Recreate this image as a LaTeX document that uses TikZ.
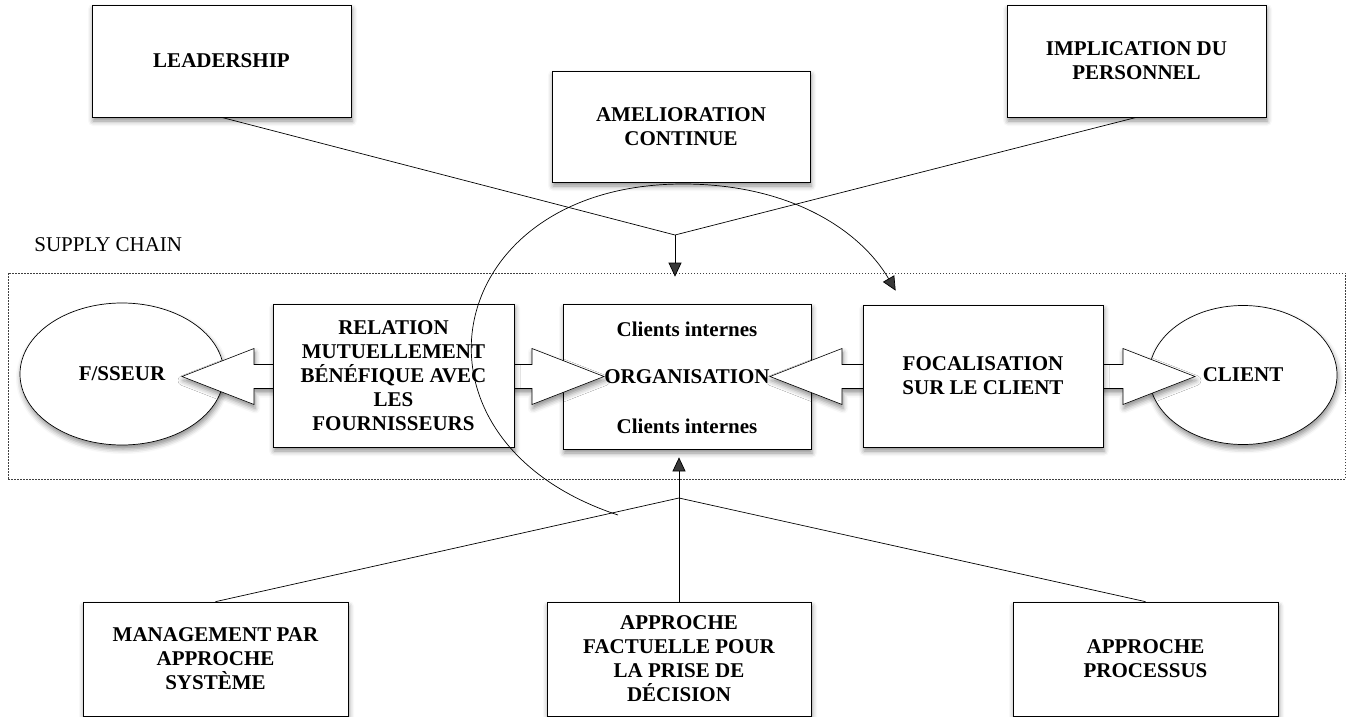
\documentclass[tikz,border=0pt]{standalone}
\usepackage{fontspec}
\setmainfont{Liberation Serif}
\usetikzlibrary{arrows.meta,shapes.geometric,calc,shadows.blur}

\newcommand{\bigfont}{\fontsize{21}{24}\selectfont}
\newcommand{\fatarrow}[2]{%
	\path[fat] let \p1=(#1), \p2=(#2) in (\x1,\y1) -- (\x1+72pt,\y1+28pt) -- (\x1+72pt,\y1+12pt)
	-- (\x2-72pt,\y1+12pt) -- (\x2-72pt,\y1+28pt) -- (\x2,\y1) -- (\x2-72pt,\y1-28pt)
	-- (\x2-72pt,\y1-12pt) -- (\x1+72pt,\y1-12pt) -- (\x1+72pt,\y1-28pt) -- cycle;}

\begin{document}
\begin{tikzpicture}[x=1pt,y=-1pt,->,>={Triangle[length=14pt,width=13pt]},line width=0.7pt,
	main node/.style={rectangle,draw,fill=white,align=center,font=\bigfont\bfseries,
		blur shadow={shadow xshift=1pt,shadow yshift=-4pt,shadow blur radius=5pt,shadow opacity=45}},
	oval node/.style={main node,ellipse},
	fat/.style={draw,fill=white,line width=0.6pt,
		blur shadow={shadow xshift=1pt,shadow yshift=-4pt,shadow blur radius=5pt,shadow opacity=45}},
	txt/.style={font=\bigfont\bfseries,inner sep=0pt},
	frame/.style={draw=black!75,line width=0.6pt,dash pattern=on 1.5pt off 1.5pt,minimum width=1337,minimum height=206}]

	\useasboundingbox (0,0) rectangle (1354,717);

	\node[frame] (chain) at (676.5,376) {};
	\node[font=\bigfont,inner sep=0pt,anchor=west] (sc) at (34,245) {SUPPLY CHAIN};

	\node[main node,minimum width=259,minimum height=112] (lead) at (221.5,61) {LEADERSHIP};
	\node[main node,minimum width=258,minimum height=111] (amel) at (681,126.5) {AMELIORATION\\CONTINUE};
	\node[main node,minimum width=259,minimum height=112] (impl) at (1136.5,61) {IMPLICATION DU\\PERSONNEL};

	\node[oval node,minimum width=204,minimum height=142] (fss) at (122,374) {F/SSEUR};
	\node[oval node,minimum width=188,minimum height=139] (cli) at (1243,375) {CLIENT};

	\node[main node,minimum width=248,minimum height=145] (org) at (687,376.5) {};
	\node[txt] (orgtxt) at (org.center) {ORGANISATION};
	\node[txt] (orgtop) at ([yshift=47pt]org.center) {Clients internes};
	\node[txt] (orgbot) at ([yshift=-50pt]org.center) {Clients internes};

	\fatarrow{[xshift=60pt]fss.center |- orgtxt.west}{orgtxt.west}
	\fatarrow{orgtxt.east}{[xshift=-48pt]cli.center |- orgtxt.east}

	\node[main node,minimum width=241,minimum height=143] (rel) at (393.5,375.5)
		{RELATION\\MUTUELLEMENT\\BÉNÉFIQUE AVEC\\LES\\FOURNISSEURS};
	\node[main node,minimum width=240,minimum height=142] (foc) at (983,376) {FOCALISATION\\SUR LE CLIENT};

	\node[main node,minimum width=265,minimum height=114] (mgmt) at (215.5,659) {MANAGEMENT PAR\\APPROCHE\\SYSTÈME};
	\node[main node,minimum width=264,minimum height=114] (fact) at (679,659) {APPROCHE\\FACTUELLE POUR\\LA PRISE DE\\DÉCISION};
	\node[main node,minimum width=265,minimum height=114] (proc) at (1145.5,659) {APPROCHE\\PROCESSUS};

	\coordinate (jtop) at (675,235);
	\coordinate (jbot) at (679,498);
	\coordinate (cstart) at (618,515);
	\coordinate (ctop) at (683,184);

	\draw[-] (lead.south) -- (jtop) -- (impl.south);
	\draw[shorten >=27pt] (jtop) -- (jtop |- org.north);
	\draw[-] (mgmt.north) -- (jbot) -- (proc.north);
	\draw[shorten >=8pt] (fact.north) -- (fact.north |- org.south);

	\draw (cstart) .. controls (390,440) and (440,184) .. (ctop)
		.. controls (790,184) and (860,230) .. ([xshift=33pt,yshift=14pt]foc.north west);
\end{tikzpicture}
\end{document}
